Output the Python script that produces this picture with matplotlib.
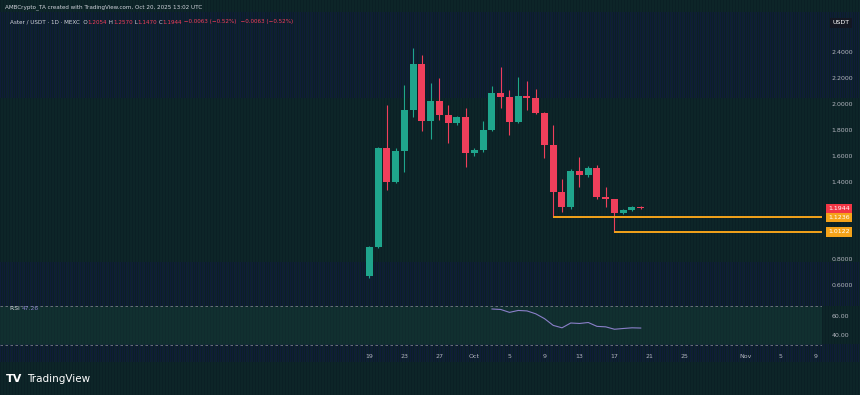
import numpy as np
import pandas as pd
import matplotlib
matplotlib.use("Agg")
import matplotlib.pyplot as plt
import matplotlib.dates as mdates
import matplotlib.transforms as mtransforms

# daily candles, ASTER/USDT (MEXC), Sep 19 - Oct 20 2025
dates = pd.date_range("2025-09-19", "2025-10-20", freq="D")
opens = [0.672, 0.896, 1.663, 1.395, 1.637, 1.954, 2.307, 1.871, 2.023, 1.915, 1.851,
         1.897, 1.619, 1.645, 1.800, 2.083, 2.056, 1.863, 2.062, 2.044, 1.928, 1.683,
         1.323, 1.202, 1.485, 1.452, 1.503, 1.284, 1.264, 1.156, 1.181, 1.2054]
highs = [0.900, 1.670, 1.990, 1.660, 2.147, 2.430, 2.378, 2.160, 2.200, 1.990, 1.910,
         1.969, 1.660, 1.871, 2.139, 2.283, 2.108, 2.211, 2.180, 2.113, 1.940, 1.838,
         1.419, 1.500, 1.593, 1.520, 1.529, 1.361, 1.270, 1.190, 1.215, 1.210]
lows = [0.660, 0.890, 1.336, 1.390, 1.477, 1.900, 1.794, 1.727, 1.876, 1.700, 1.840,
        1.513, 1.600, 1.630, 1.790, 1.967, 1.761, 1.850, 1.954, 1.920, 1.580, 1.1236,
        1.168, 1.190, 1.357, 1.440, 1.270, 1.207, 1.0122, 1.150, 1.175, 1.190]
closes = [0.896, 1.663, 1.395, 1.637, 1.954, 2.307, 1.871, 2.023, 1.915, 1.851, 1.897,
          1.619, 1.645, 1.800, 2.083, 2.056, 1.863, 2.062, 2.044, 1.928, 1.683, 1.323,
          1.202, 1.485, 1.452, 1.503, 1.284, 1.264, 1.156, 1.181, 1.207, 1.1944]

rsi_dates = pd.date_range("2025-10-03", "2025-10-20", freq="D")
rsi_vals = [67.0, 66.5, 63.5, 65.5, 65.0, 62.0, 57.0, 50.0, 47.5, 52.5, 52.0, 53.0,
            49.0, 48.5, 46.0, 46.8, 47.5, 47.26]

support_levels = [1.1236, 1.0122]
support_from = ["2025-10-10", "2025-10-17"]
last_close = 1.1944

# 1.0000 and 1.2000 sit behind the price labels
price_ticks = [0.6, 0.8, 1.4, 1.6, 1.8, 2.0, 2.2, 2.4]
rsi_ticks = [40, 60]
time_ticks = ["2025-09-19", "2025-09-23", "2025-09-27", "2025-10-01", "2025-10-05",
              "2025-10-09", "2025-10-13", "2025-10-17", "2025-10-21", "2025-10-25",
              "2025-11-01", "2025-11-05", "2025-11-09"]
time_labels = ["19", "23", "27", "Oct", "5", "9", "13", "17", "21", "25", "Nov", "5", "9"]

W, H = 860, 395
GREEN = "#1fa58c"
RED = "#ef3f5b"
ORANGE = "#f5a31a"
TXT = "#b2b5be"


def px(x, y):
    return x / W, 1 - y / H


fig = plt.figure(figsize=(W / 100, H / 100), dpi=100)

# dithered dark background (teal with navy striped bands, like the gif export)
bg = np.zeros((H, W, 3))
teal = np.array([13, 37, 40]) / 255
teal2 = np.array([11, 32, 37]) / 255
navy = np.array([15, 28, 56]) / 255
bg[:] = teal
bg[:, ::3] = teal2
for y0, y1 in [(12, 98), (262, 306), (344, 362)]:
    bg[y0:y1, ::2] = navy
    bg[y0:y1, 1::4] = teal2
bga = fig.add_axes([0, 0, 1, 1])
bga.imshow(bg, aspect="auto", interpolation="nearest")
bga.axis("off")

x0 = mdates.date2num(pd.Timestamp("2025-09-19"))
xlim = (x0 - 369.5 / 8.75, x0 + (822 - 369.5) / 8.75)

ax = fig.add_axes([0, 1 - 297 / H, 822 / W, (297 - 14) / H])
ax.set_facecolor("none")
ax.set_xlim(xlim)
ax.set_ylim(2.0 - (297 - 104) / 129.5, 2.0 + (104 - 14) / 129.5)

o = np.array(opens)
c = np.array(closes)
cols = [GREEN if cc >= oo else RED for oo, cc in zip(o, c)]
ax.vlines(dates, lows, highs, color=cols, lw=0.8)
ax.bar(dates, np.maximum(np.abs(c - o), 0.006), bottom=np.minimum(o, c),
       width=0.8, color=cols, linewidth=0)

for lvl, start in zip(support_levels, support_from):
    ax.hlines(lvl, mdates.date2num(pd.Timestamp(start)), xlim[1], color=ORANGE, lw=1.4)

ax.yaxis.tick_right()
ax.set_yticks(price_ticks)
ax.set_yticklabels([f"{t:.4f}" for t in price_ticks])
ax.tick_params(axis="y", length=0, pad=7, labelsize=4.5, labelcolor=TXT)
ax.set_xticks([])
for s in ax.spines.values():
    s.set_visible(False)

# price labels on the right scale
tr = mtransforms.blended_transform_factory(fig.transFigure, ax.transData)
for val, fc in [(last_close, "#f23645"), (support_levels[0], ORANGE), (support_levels[1], ORANGE)]:
    ax.text(839 / W, val, f"{val:.4f}", transform=tr, ha="center", va="center",
            fontsize=4.5, color="white", clip_on=False,
            bbox=dict(boxstyle="square,pad=0.35", fc=fc, ec="none"))

fig.text(*px(841, 23), "USDT", ha="center", va="center", fontsize=4.5,
         color="white", bbox=dict(boxstyle="square,pad=0.4", fc="#131722", ec="none"))

# RSI pane
rx = fig.add_axes([0, 1 - 348 / H, 822 / W, (348 - 299) / H])
rx.set_facecolor("none")
rx.set_xlim(xlim)
rx.set_ylim(50 - (348 - 325.4) / 0.965, 50 + (325.4 - 299) / 0.965)
rx.axhspan(30, 70, color="#1d4a45", alpha=0.3, lw=0)
rx.axhline(70, color="#787b86", lw=0.6, ls=(0, (3, 3)))
rx.axhline(30, color="#787b86", lw=0.6, ls=(0, (3, 3)))
rx.plot(rsi_dates, rsi_vals, color="#8a7fc9", lw=0.8)
rx.yaxis.tick_right()
rx.set_yticks(rsi_ticks)
rx.set_yticklabels([f"{t:.2f}" for t in rsi_ticks])
rx.set_xticks(mdates.date2num(pd.to_datetime(time_ticks)))
rx.set_xticklabels(time_labels)
rx.tick_params(axis="y", length=0, pad=7, labelsize=4.5, labelcolor=TXT)
rx.tick_params(axis="x", length=0, pad=4, labelsize=4.5, labelcolor=TXT)
for s in rx.spines.values():
    s.set_visible(False)

fig.canvas.draw()
rend = fig.canvas.get_renderer()


def run_text(x, y, parts, size):
    for s, col in parts:
        t = fig.text(*px(x, y), s, fontsize=size, color=col, ha="left", va="center")
        bb = t.get_window_extent(rend)
        x = bb.x1


fig.text(*px(5, 7), "AMBCrypto_TA created with TradingView.com, Oct 20, 2025 13:02 UTC",
         fontsize=4.1, color="#d1d4dc", ha="left", va="center")
run_text(10, 22, [("Aster / USDT \u00b7 1D \u00b7 MEXC  O", "#d1d4dc"), ("1.2054", RED),
                  (" H", "#d1d4dc"), ("1.2570", RED), (" L", "#d1d4dc"), ("1.1470", RED),
                  (" C", "#d1d4dc"), ("1.1944", RED), (" \u22120.0063 (\u22120.52%)", RED),
                  ("  \u22120.0063 (\u22120.52%)", RED)], 4.1)
run_text(10, 309, [("RSI ", "#d1d4dc"), ("47.26", "#8a7fc9")], 4.3)

fig.text(*px(6, 379), "TV", fontsize=8, fontweight="heavy", color="white",
         ha="left", va="center")
fig.text(*px(27, 379), "TradingView", fontsize=7.5, color="white", ha="left", va="center")

fig.savefig("out.png", dpi=100, facecolor="#0d2528")
